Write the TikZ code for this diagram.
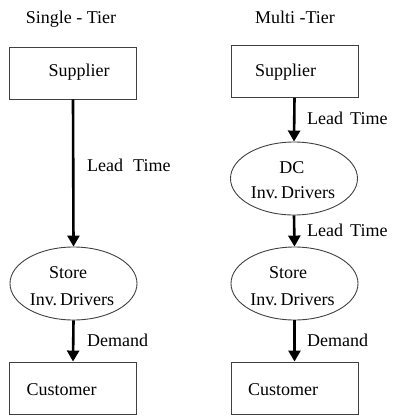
\documentclass[tikz,border=0pt]{standalone}
\usepackage{fontspec}
\setmainfont{Liberation Serif}
\newfontfamily\tnr{Liberation Serif}
\usetikzlibrary{shapes.geometric,arrows.meta}
\begin{document}
\begin{tikzpicture}[x=1pt,y=-1pt,
  every node/.style={font=\tnr\fontsize{18}{20}\selectfont},
  boxnode/.style={draw=black!75,line width=0.9pt,rectangle,minimum width=127pt,minimum height=52pt,inner sep=0pt},
  ellnode/.style={draw=black!75,line width=0.9pt,ellipse,minimum width=127pt,minimum height=73pt,inner sep=0pt},
  txt/.style={anchor=base,inner sep=0pt},
  arr/.style={line width=2.6pt,-{Triangle[width=12pt,length=11pt]}}]
\useasboundingbox (0,0) rectangle (393,416);
% titles
\node[txt] (t1) at (71,23) {Single - Tier};
\node[txt] (t2) at (295,23) {Multi -Tier};
% left column
\node[boxnode] (sup1) at (73,73) {};
\node[txt] (sup1t) at (79,76) {Supplier};
\node[ellnode] (store1) at (73.5,283.5) {};
\node[txt] (store1a) at (68,278) {Store};
\node[txt] (store1b) at (72,305) {Inv.\,Drivers};
\node[boxnode] (cus1) at (73,388) {};
\node[txt] (cus1t) at (61.5,395) {Customer};
\draw[arr] (sup1.south) -- (store1.north);
\draw[arr] (store1.south) -- (cus1.north);
\node[txt,anchor=base west] (lt1) at (87,171) {Lead\hspace{10pt}Time};
\node[txt,anchor=base west] (dm1) at (87,346) {Demand};
% right column
\node[boxnode] (sup2) at (294.5,71.5) {};
\node[txt] (sup2t) at (285.5,76) {Supplier};
\node[ellnode] (dc) at (294,178.5) {};
\node[txt] (dca) at (292,173) {DC};
\node[txt] (dcb) at (293,198) {Inv.\,Drivers};
\node[ellnode] (store2) at (294.5,283.5) {};
\node[txt] (store2a) at (288,278) {Store};
\node[txt] (store2b) at (292.5,305) {Inv.\,Drivers};
\node[boxnode] (cus2) at (294.5,388) {};
\node[txt] (cus2t) at (283,395) {Customer};
\draw[arr] (sup2.south) -- (dc.north);
\draw[arr] (dc.south) -- (store2.north);
\draw[arr] (store2.south) -- (cus2.north);
\node[txt,anchor=base west] (lt2) at (307,124) {Lead\hspace{7pt}Time};
\node[txt,anchor=base west] (lt3) at (307,236) {Lead\hspace{7pt}Time};
\node[txt,anchor=base west] (dm2) at (307,346) {Demand};
\end{tikzpicture}
\end{document}
